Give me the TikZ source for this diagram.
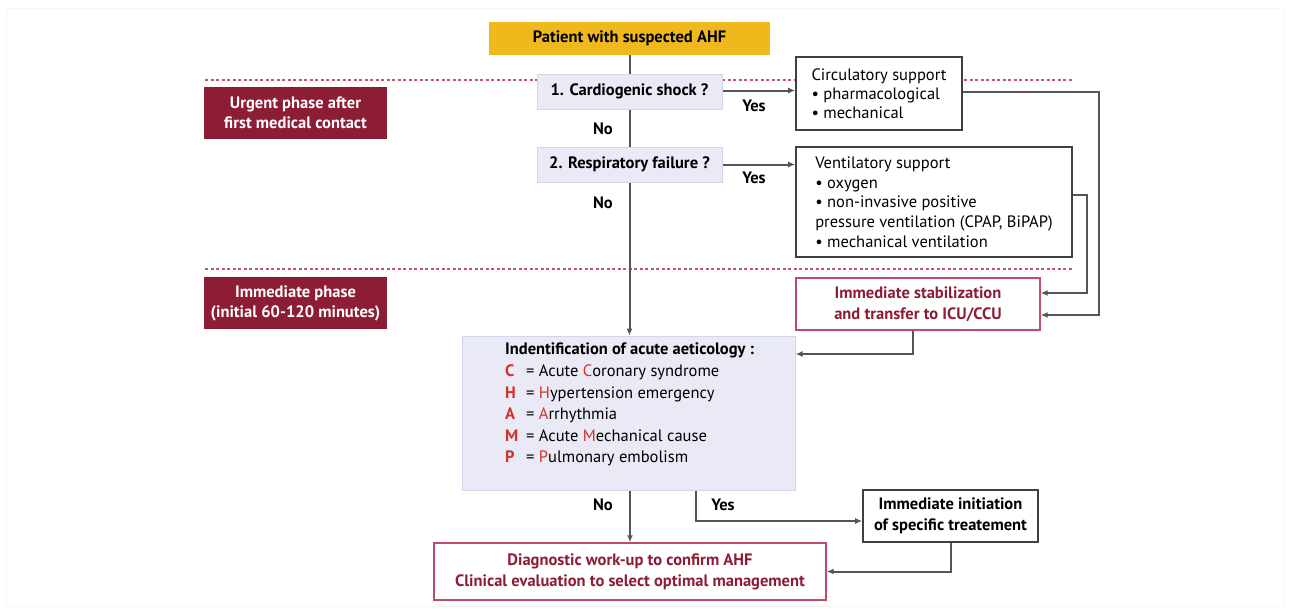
\documentclass[tikz,border=0pt]{standalone}
\usepackage{fontspec}
\setmainfont{PT Sans}
\usetikzlibrary{arrows.meta,positioning,calc}
\definecolor{gold}{HTML}{EFB81C}
\definecolor{wine}{HTML}{8C1D34}
\definecolor{lav}{HTML}{E9EAF5}
\definecolor{lavb}{HTML}{D3D6EA}
\definecolor{conn}{HTML}{555555}
\definecolor{pinkb}{HTML}{C24A62}
\definecolor{dotred}{HTML}{C4566C}
\definecolor{lred}{HTML}{D2312C}
\begin{document}
\begin{tikzpicture}[x=1pt,y=-1pt,
  font=\fontsize{16.5}{20}\selectfont,
  goldbox/.style={fill=gold, draw=none, font=\fontsize{16.5}{20}\selectfont\bfseries},
  qbox/.style={fill=lav, draw=lavb, line width=1pt, font=\fontsize{16.5}{20}\selectfont\bfseries},
  phasebox/.style={fill=wine, draw=none, text=white, align=center, font=\fontsize{16.5}{20}\selectfont\bfseries},
  graybox/.style={fill=white, draw=black!75, line width=1.6pt},
  redbox/.style={fill=white, draw=pinkb, line width=1.4pt, text=wine, align=center, font=\fontsize{16.5}{21}\selectfont\bfseries},
  lbl/.style={font=\fontsize{16.5}{20}\selectfont\bfseries, inner sep=0pt},
  conline/.style={draw=conn, line width=2pt},
  arr/.style={conline, -{Latex[length=7pt,width=6pt]}},
  sep/.style={draw=dotred, line width=1.7pt, dash pattern=on 3pt off 2.5pt}
]
\useasboundingbox (0,0) rectangle (1290,611);
\draw[black!3, line width=0.8pt] (6,8) rectangle (1284,606);

% separators
\coordinate (s1a) at (205,80); \coordinate (s1b) at (1072,80);
\coordinate (s2a) at (205,269); \coordinate (s2b) at (1072,269);
\draw[sep] (s1a) -- (s1b);
\draw[sep] (s2a) -- (s2b);

% nodes
\node[goldbox, minimum width=281pt, minimum height=33pt] (patient) at (629.5,38.5) {Patient with suspected AHF};
\node[qbox, minimum width=185pt, minimum height=35pt] (q1) at (629.5,91.5) {1. Cardiogenic shock ?};
\node[qbox, minimum width=185pt, minimum height=35pt] (q2) at (629.5,164.5) {2. Respiratory failure ?};
\node[phasebox, minimum width=183pt, minimum height=52pt] (urgent) at (295.5,113) {Urgent phase after\\first medical contact};
\node[phasebox, minimum width=183pt, minimum height=52pt] (immed) at (295.5,303) {Immediate phase\\(initial 60-120 minutes)};

\node[graybox, minimum width=166pt, minimum height=73pt, align=left, inner xsep=6pt, inner ysep=0pt,
  font=\fontsize{16.5}{19}\selectfont] (circ) at (879,93.5)
  {Circulatory support\\\textbullet\ pharmacological\\\textbullet\ mechanical};
\node[graybox, minimum width=276pt, minimum height=110pt, align=left, inner xsep=6pt, inner ysep=0pt,
  font=\fontsize{16.5}{19.7}\selectfont] (vent) at (934,202)
  {Ventilatory support\\\textbullet\ oxygen\\\textbullet\ non-invasive positive\\pressure ventilation (CPAP, BiPAP)\\\textbullet\ mechanical ventilation};

\node[redbox, minimum width=244pt, minimum height=52pt] (stab) at (918,304) {Immediate stabilization\\and transfer to ICU/CCU};

\node[qbox, minimum width=333pt, minimum height=154pt] (ident) at (628.5,413) {};
\node[anchor=north west, inner sep=0pt, align=left, font=\fontsize{16.5}{21.6}\selectfont] (identtxt) at (505,343)
  {\textbf{Indentification of acute aeticology :}\\
   \makebox[21pt][l]{\textbf{\color{lred}C}}= Acute {\color{lred}C}oronary syndrome\\
   \makebox[21pt][l]{\textbf{\color{lred}H}}= {\color{lred}H}ypertension emergency\\
   \makebox[21pt][l]{\textbf{\color{lred}A}}= {\color{lred}A}rrhythmia\\
   \makebox[21pt][l]{\textbf{\color{lred}M}}= Acute {\color{lred}M}echanical cause\\
   \makebox[21pt][l]{\textbf{\color{lred}P}}= {\color{lred}P}ulmonary embolism};

\node[graybox, minimum width=175pt, minimum height=52pt, align=center, font=\fontsize{16.5}{21}\selectfont\bfseries] (init) at (950.5,516)
  {Immediate initiation\\of specific treatement};
\node[redbox, minimum width=392pt, minimum height=57pt] (diag) at (630,571.5)
  {Diagnostic work-up to confirm AHF\\Clinical evaluation to select optimal management};

% labels
\node[lbl] (y1) at (754,106) {Yes};
\node[lbl] (y2) at (754,178) {Yes};
\node[lbl] (y3) at (723,505) {Yes};
\node[lbl] (n1) at (603,129) {No};
\node[lbl] (n2) at (603,203) {No};
\node[lbl] (n3) at (603,505) {No};

% connectors
\draw[conline] (patient.south) -- (q1.north);
\draw[conline] (q1.south) -- (q2.north);
\draw[arr] (q2.south) -- (ident.north -| q2.south);
\draw[arr] ([yshift=1pt]q1.east) -- ([yshift=1pt]circ.west |- q1.east);
\draw[arr] (q2.east) -- (circ.west |- q2.east);
\draw[arr] ([yshift=1.5pt]circ.east) -- ++(136,0) |- ([yshift=-11pt]stab.east);
\draw[arr] ([yshift=7pt]vent.east) -- ++(14,0) |- ([yshift=11pt]stab.east);
\draw[arr] ([xshift=-5pt]stab.south) |- ([yshift=59pt]ident.east);
\draw[arr] (ident.south -| diag.north) -- (diag.north);
\draw[arr] ([xshift=67.5pt]ident.south) |- ([yshift=-5pt]init.west);
\draw[arr] (init.south) |- (diag.east);
\end{tikzpicture}
\end{document}
